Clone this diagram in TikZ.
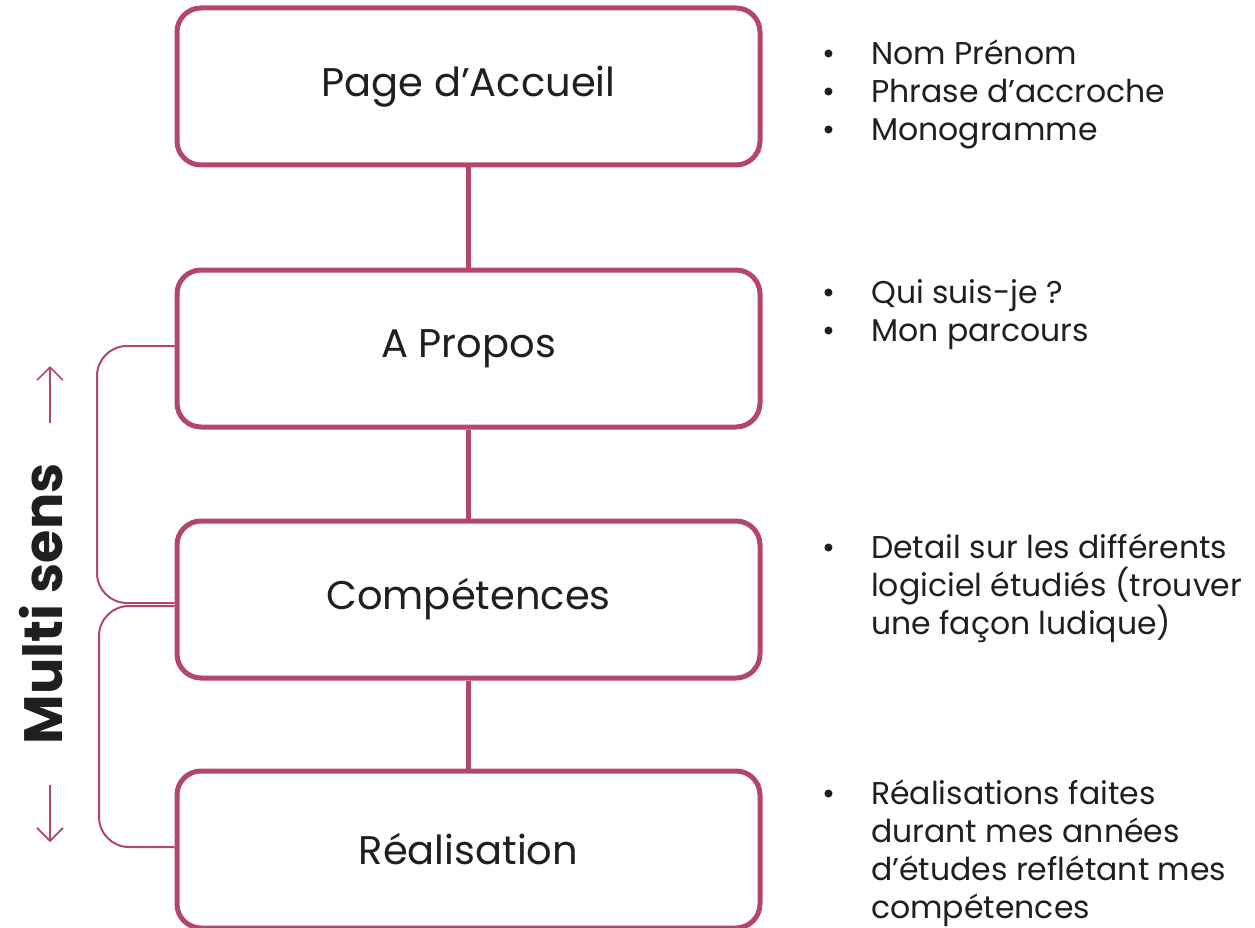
\documentclass[tikz,border=0pt]{standalone}
\usepackage{fontspec}
\setmainfont{Poppins}
\usetikzlibrary{positioning, arrows.meta}

\definecolor{framboise}{RGB}{180,70,103}
\newcommand{\puce}{\llap{\textbullet\hspace{36pt}}}

\tikzset{
	page/.style={draw=framboise, line width=5pt, rounded corners=24pt,
		minimum width=583pt, minimum height=157pt, inner sep=0pt,
		font=\fontsize{40}{48}\selectfont, text=black!88},
	liste/.style={anchor=base west, align=left, inner sep=0pt,
		font=\fontsize{31.5}{38}\selectfont, text=black!88},
	lien/.style={draw=framboise, line width=5pt},
	accolade/.style={draw=framboise, line width=2pt, rounded corners=30pt},
	sens/.style={draw=framboise, line width=1.6pt, -{Straight Barb[length=13pt, width=26pt]}}
}

\begin{document}
\begin{tikzpicture}[x=1pt, y=-1pt]
		
		\useasboundingbox (0,0) rectangle (1255,928);
		
		% pages
		\node[page] (accueil) at (468.5,86.5) {Page d'Accueil};
		\node[page] (propos) at (468.5,348.5) {A Propos};
		\node[page] (competences) at (468.5,599.5) {Compétences};
		\node[page] (realisation) at (468.5,849.5) {Réalisation};
		
		\draw[lien] (accueil) -- (propos);
		\draw[lien] (propos) -- (competences);
		\draw[lien] (competences) -- (realisation);
		
		% contenu (base = derniere ligne)
		\node[liste] (l1) at (871,141) {\puce Nom Prénom\\ \puce Phrase d'accroche\\ \puce Monogramme};
		\node[liste] (l2) at (871,341) {\puce Qui suis-je ?\\ \puce Mon parcours};
		\node[liste] (l3) at (871,634) {\puce Detail sur les différents\\ logiciel étudiés (trouver\\ une façon ludique)};
		\node[liste] (l4) at (871,918) {\puce Réalisations faites\\ durant mes années\\ d'études reflétant mes\\ compétences};
		
		% multi sens
		\coordinate (a1) at (propos.west |- 0,346);
		\coordinate (a2) at (97,346);
		\coordinate (a3) at (97,603);
		\coordinate (a4) at (competences.west |- 0,603);
		\coordinate (b1) at (competences.west |- 0,606);
		\coordinate (b2) at (99,606);
		\coordinate (b3) at (99,847);
		\coordinate (b4) at (realisation.west |- 0,847);
		\draw[accolade] (a1) -- (a2) -- (a3) -- (a4);
		\draw[accolade] (b1) -- (b2) -- (b3) -- (b4);
		
		\node[rotate=90, font=\fontsize{54}{60}\bfseries, text=black!88] (multi) at (41,604) {Multi sens};
		\coordinate (h1) at (50,423);
		\coordinate (h2) at (50,366);
		\coordinate (d1) at (50,785);
		\coordinate (d2) at (50,842);
		\draw[sens] (h1) -- (h2);
		\draw[sens] (d1) -- (d2);
		
\end{tikzpicture}
\end{document}
